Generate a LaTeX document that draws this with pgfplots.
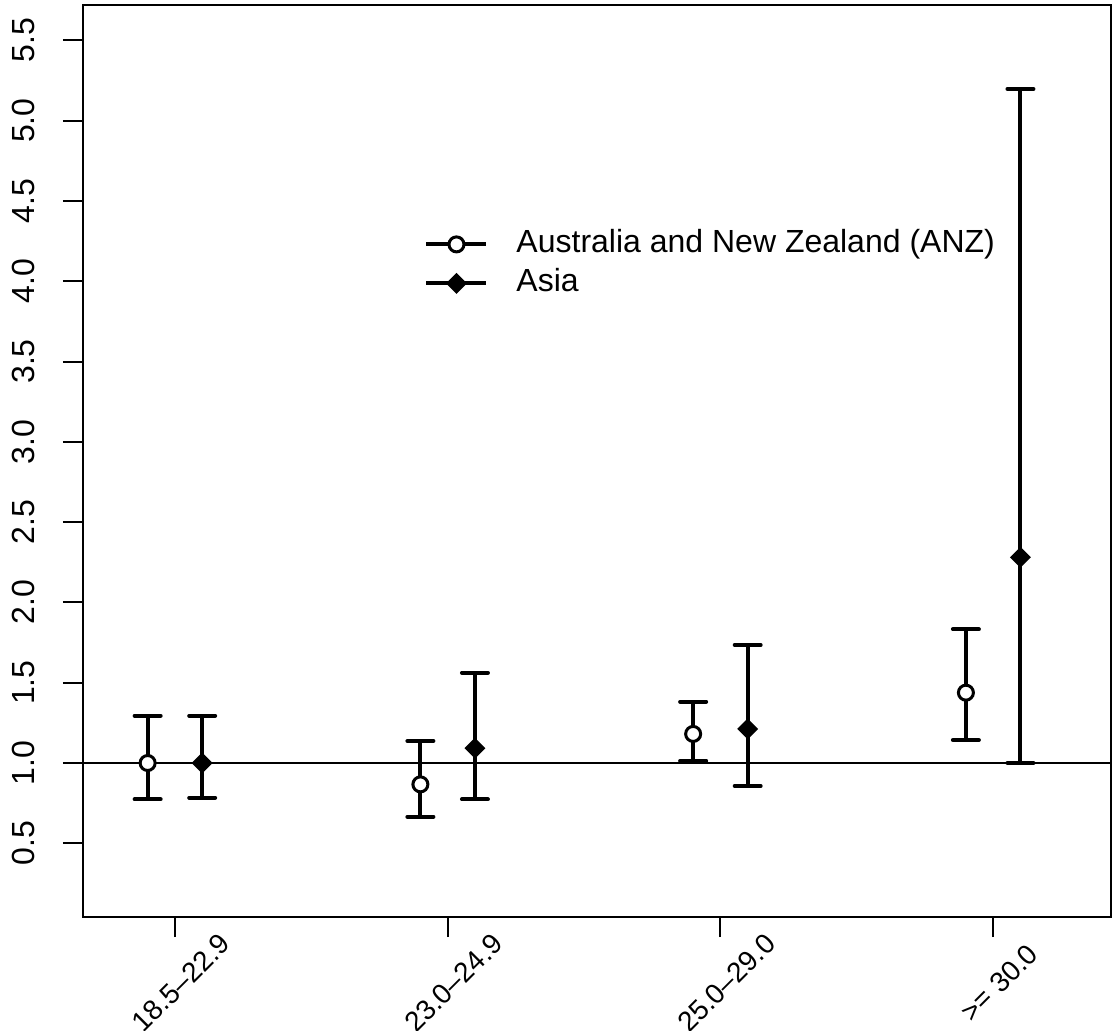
\documentclass[border=0pt]{standalone}
\usepackage{fontspec}
\setmainfont{Liberation Sans}
\usepackage{pgfplots}
\usepackage{pgfplotstable}
\pgfplotsset{compat=1.18}
\pgfplotstableread{
x y ep em
0.9 1.000 0.295 0.226
1.9 0.867 0.270 0.201
2.9 1.181 0.201 0.167
3.9 1.438 0.395 0.295
}\anz
\pgfplotstableread{
x y ep em
1.1 1.000 0.295 0.216
2.1 1.092 0.470 0.318
3.1 1.212 0.523 0.355
4.1 2.281 2.916 1.281
}\asia
\begin{document}
\begin{tikzpicture}
\begin{axis}[
  at={(0,0)}, anchor=south west,
  scale only axis, width=514pt, height=456pt,
  xmin=0.663, xmax=4.432, ymin=0.041, ymax=5.72,
  axis line style={line width=1pt},
  tick align=outside, major tick length=10pt,
  tick style={line width=1pt, black},
  xtick={1,2,3,4},
  xticklabels={18.5--22.9,23.0--24.9,25.0--29.0,>= 30.0},
  ytick={0.5,1.0,1.5,2.0,2.5,3.0,3.5,4.0,4.5,5.0,5.5},
  yticklabels={0.5,1.0,1.5,2.0,2.5,3.0,3.5,4.0,4.5,5.0,5.5},
  xtick pos=bottom, ytick pos=left,
  /pgf/number format/assume math mode=true,
  yticklabel style={font=\fontsize{16}{19}\selectfont, xshift=-14pt, rotate=90, anchor=south, inner sep=0pt},
  xticklabel style={font=\fontsize{14}{17}\selectfont, xshift=3pt, yshift=-23pt, rotate=45, anchor=center, inner sep=0pt},
  legend style={at={(axis cs:1.915,4.329)}, anchor=north west, draw=none, fill=none,
    inner sep=0pt, outer sep=0pt,
    font=\fontsize{16}{19}\selectfont, column sep=14pt, row sep=3.5pt,
    nodes={inner sep=0pt, text height=12pt, text depth=4pt}},
  legend cell align=left,
  legend image code/.code={\draw[mark repeat=2,mark phase=2,#1] plot coordinates {(0pt,0pt)(15pt,0pt)(30pt,0pt)};},
  clip=false,
]
\addlegendimage{black, line width=2pt, mark=*, mark size=3.75pt, mark options={fill=white, line width=1.5pt, solid}}
\addlegendentry{Australia and New Zealand (ANZ)}
\addlegendimage{black, line width=2pt, mark=square*, mark size=3.3pt, mark options={fill=black, rotate=45, line width=0.8pt}}
\addlegendentry{Asia}
\addplot[black, only marks, mark=*, mark size=3.75pt, mark options={fill=white, line width=1.5pt},
  error bars/.cd, y dir=both, y explicit,
  error bar style={line width=2pt, black},
  error mark=|, error mark options={mark size=6.5pt, line width=2pt, line cap=round, black}]
  table[x=x, y=y, y error plus=ep, y error minus=em] {\anz};
\addplot[black, only marks, mark=square*, mark size=3.3pt, mark options={fill=black, rotate=45, line width=0.8pt},
  error bars/.cd, y dir=both, y explicit,
  error bar style={line width=2pt, black},
  error mark=|, error mark options={mark size=6.5pt, line width=2pt, line cap=round, black}]
  table[x=x, y=y, y error plus=ep, y error minus=em] {\asia};
\addplot[black, line width=1pt, forget plot] coordinates {(0.663,1) (4.432,1)};
\end{axis}
\pgfresetboundingbox
\path[use as bounding box] (-41.5pt,-56.5pt) rectangle (515pt,458.5pt);
\end{tikzpicture}
\end{document}
